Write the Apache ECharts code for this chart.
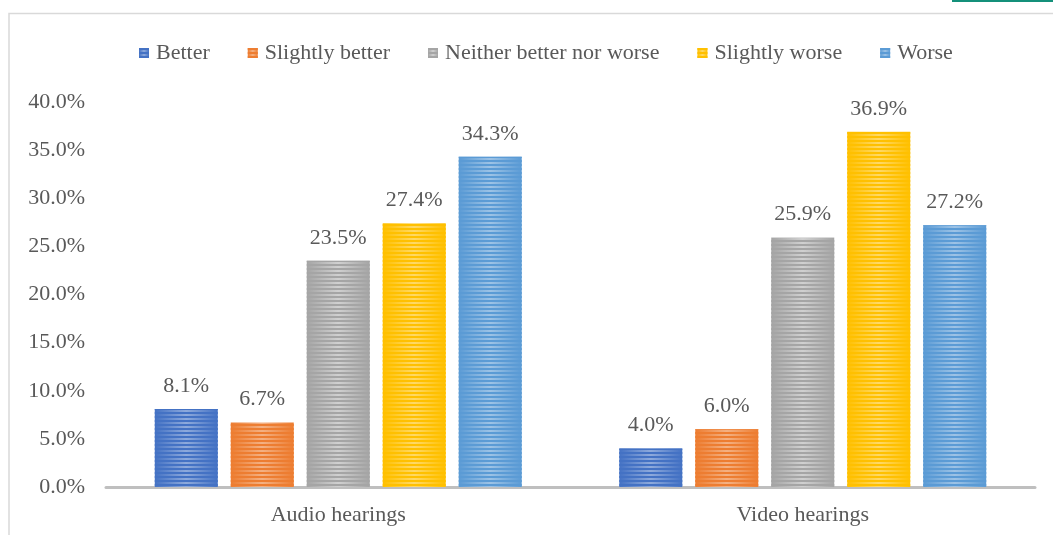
<!DOCTYPE html>
<html><head><meta charset="utf-8">
<script src="https://cdn.jsdelivr.net/npm/echarts@6/dist/echarts.min.js"></script>
<style>html,body{margin:0;padding:0;background:#fff}#c{width:1053px;height:535px}</style>
</head><body><div id="c"></div>
<script>
const categories = ['Audio hearings', 'Video hearings'];
const seriesNames = ['Better', 'Slightly better', 'Neither better nor worse', 'Slightly worse', 'Worse'];
const better = [8.1, 4.0];
const slightlyBetter = [6.7, 6.0];
const neither = [23.5, 25.9];
const slightlyWorse = [27.4, 36.9];
const worse = [34.3, 27.2];
const yTicks = [0, 5, 10, 15, 20, 25, 30, 35, 40];

const values = [better, slightlyBetter, neither, slightlyWorse, worse];
const colors = ['#4472c4', '#ed7d31', '#a5a5a5', '#ffc000', '#5b9bd5'];
const lights = ['#8eaadc', '#f4b183', '#d0d0d0', '#ffd966', '#9dc3e6'];
const font = '"Liberation Serif", "Times New Roman", serif';
const textColor = '#595959';

function grad(c, l) {
  return new echarts.graphic.LinearGradient(0, 0, 1, 0, [
    {offset: 0, color: c}, {offset: 0.5, color: l}, {offset: 1, color: c}
  ]);
}

const series = seriesNames.map((n, i) => ({
  name: n,
  type: 'bar',
  data: values[i],
  barGap: '20.6%',
  barCategoryGap: '21%',
  itemStyle: {
    color: grad(colors[i], lights[i]),
    decal: {
      symbol: 'rect',
      symbolSize: 1,
      dashArrayX: [1, 0],
      dashArrayY: [2, 2],
      color: colors[i],
      rotation: 0
    }
  },
  label: {
    show: true, position: 'top', distance: 12,
    formatter: p => p.value.toFixed(1) + '%',
    fontFamily: font, fontSize: 22, color: textColor
  },
  emphasis: {disabled: true}
}));

const chart = echarts.init(document.getElementById('c'), null, {renderer: 'canvas'});
chart.setOption({
  animation: false,
  backgroundColor: '#fff',
  graphic: [
    {type: 'polyline', shape: {points: [[9, 540], [9, 13.5], [1060, 13.5]]}, style: {stroke: '#d9d9d9', lineWidth: 1.5, fill: null}, silent: true},
    {type: 'rect', shape: {x: 952, y: 0, width: 101, height: 2}, style: {fill: '#14907a'}, silent: true}
  ],
  legend: {
    top: 37, left: 134,
    itemWidth: 10, itemHeight: 10, itemGap: 38,
    icon: 'rect',
    textStyle: {fontFamily: font, fontSize: 22, color: textColor, padding: [0, 0, 0, 2]},
    data: seriesNames
  },
  grid: {left: 106, right: 18, top: 102, bottom: 48},
  xAxis: {
    type: 'category', data: categories,
    axisLine: {lineStyle: {color: '#bfbfbf', width: 3}},
    axisTick: {show: false},
    axisLabel: {fontFamily: font, fontSize: 22, color: textColor, margin: 17}
  },
  yAxis: {
    type: 'value', min: yTicks[0], max: yTicks[yTicks.length - 1], interval: 5,
    axisLine: {show: false}, axisTick: {show: false}, splitLine: {show: false},
    axisLabel: {fontFamily: font, fontSize: 22, color: textColor, margin: 21,
      formatter: v => v.toFixed(1) + '%'}
  },
  series: series
});
</script></body></html>
